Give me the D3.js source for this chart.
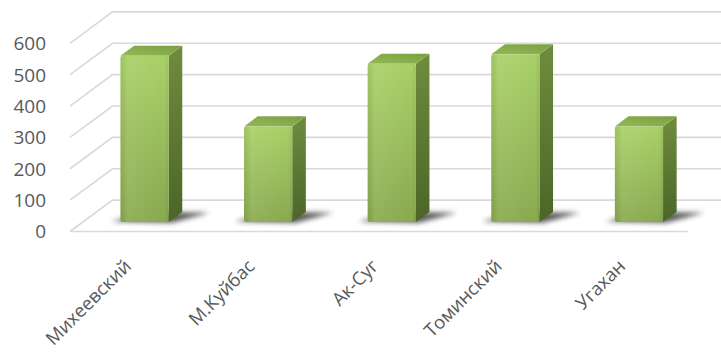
<!DOCTYPE html>
<html><head><meta charset="utf-8">
<script src="https://cdn.jsdelivr.net/npm/d3@7"></script>
<style>
html,body{margin:0;padding:0;background:#fff;}
svg{display:block;}
text{font-family:"Open Sans",Roboto,sans-serif;fill:#595959;}
</style></head>
<body><svg id="c" width="721" height="352"></svg>
<script>
const categories = ["Михеевский","М.Куйбас","Ак-Суг","Томинский","Угахан"];
const values = [530, 305, 505, 535, 305];
const yTicks = [0,100,200,300,400,500,600];

const W=721,H=352;
const svg=d3.select("#c");
const defs=svg.append("defs");

const DX=42.5, DY=31.4;          // depth offset of back wall
const F0=0.3, F1=0.62;            // bar depth span (fraction)
const x=d3.scaleBand().domain(categories).range([70,688]);
const y=d3.scaleLinear().domain([0,600]).range([231.5,43.3]);
const P=(px,v,f)=>[px+DX*f, y(v)-DY*f];

// gradients
const gFront=defs.append("linearGradient").attr("id","gf").attr("x1",0).attr("y1",0).attr("x2",0).attr("y2",1);
gFront.append("stop").attr("offset","0%").attr("stop-color","#a9d067");
gFront.append("stop").attr("offset","100%").attr("stop-color","#89a94f");
const gFrontH=defs.append("linearGradient").attr("id","gfh").attr("x1",0).attr("y1",0).attr("x2",1).attr("y2",0);
gFrontH.append("stop").attr("offset","0%").attr("stop-color","#000").attr("stop-opacity",0.06);
gFrontH.append("stop").attr("offset","15%").attr("stop-color","#fff").attr("stop-opacity",0.08);
gFrontH.append("stop").attr("offset","85%").attr("stop-color","#fff").attr("stop-opacity",0.0);
gFrontH.append("stop").attr("offset","100%").attr("stop-color","#000").attr("stop-opacity",0.08);
const gSide=defs.append("linearGradient").attr("id","gs").attr("x1",0).attr("y1",0).attr("x2",0).attr("y2",1);
gSide.append("stop").attr("offset","0%").attr("stop-color","#6f8c3d");
gSide.append("stop").attr("offset","100%").attr("stop-color","#4c6528");
const gTop=defs.append("linearGradient").attr("id","gt").attr("x1",0).attr("y1",1).attr("x2",1).attr("y2",0);
gTop.append("stop").attr("offset","0%").attr("stop-color","#93b956");
gTop.append("stop").attr("offset","100%").attr("stop-color","#7a9f42");
const blur=defs.append("filter").attr("id","bl").attr("x","-50%").attr("y","-50%").attr("width","200%").attr("height","200%");
blur.append("feGaussianBlur").attr("stdDeviation",2.5);

// gridlines
const grid=svg.append("g").attr("stroke","#d9d9d9").attr("stroke-width",1.6).attr("fill","none");
const x0=x.range()[0], x1=x.range()[1];
yTicks.forEach(v=>{
  const a=P(x0,v,0), b=P(x0,v,1), c=P(x1,v,1);
  grid.append("path").attr("d",d3.line()([a,b,c]));
});
grid.append("path").attr("d",d3.line()([P(x0,0,0),P(x1,0,0)]));

// y labels
svg.append("g").selectAll("text").data(yTicks).join("text")
  .attr("x",46).attr("y",d=>y(d)).attr("dy","0.36em")
  .attr("text-anchor","end").attr("font-size",19).text(d=>d);

// bars
const bw=x.bandwidth()*0.39;
const bars=svg.append("g");
categories.forEach((c,i)=>{
  const v=values[i];
  const L=x(c)+(x.bandwidth()-bw)/2, R=L+bw;
  const g=bars.append("g");
  // shadow
  g.append("path").attr("filter","url(#bl)").attr("fill","#303030").attr("opacity",0.8)
    .attr("d",d3.line()([P(L-10,0,F0+0.02),P(R+4,0,F0-0.02),P(R+28,0,F1-0.02),P(L+14,0,F1)])+"Z");
  // side
  g.append("path").attr("fill","url(#gs)")
    .attr("d",d3.line()([P(R,0,F0),P(R,0,F1),P(R,v,F1),P(R,v,F0)])+"Z");
  // top
  g.append("path").attr("fill","url(#gt)")
    .attr("d",d3.line()([P(L,v,F0),P(R,v,F0),P(R,v,F1),P(L,v,F1)])+"Z");
  // front
  const fl=P(L,v,F0), br=P(R,0,F0);
  g.append("rect").attr("x",fl[0]).attr("y",fl[1]).attr("width",br[0]-fl[0]).attr("height",br[1]-fl[1])
    .attr("rx",2).attr("fill","url(#gf)");
  g.append("rect").attr("x",fl[0]).attr("y",fl[1]).attr("width",br[0]-fl[0]).attr("height",br[1]-fl[1])
    .attr("rx",2).attr("fill","url(#gfh)");
});

// category labels
svg.append("g").selectAll("text").data(categories).join("text")
  .attr("transform",d=>`translate(${x(d)+x.bandwidth()/2-9},258) rotate(-45)`)
  .attr("text-anchor","end").attr("dy","0.72em").attr("font-size",18.5).text(d=>d);
</script></body></html>
